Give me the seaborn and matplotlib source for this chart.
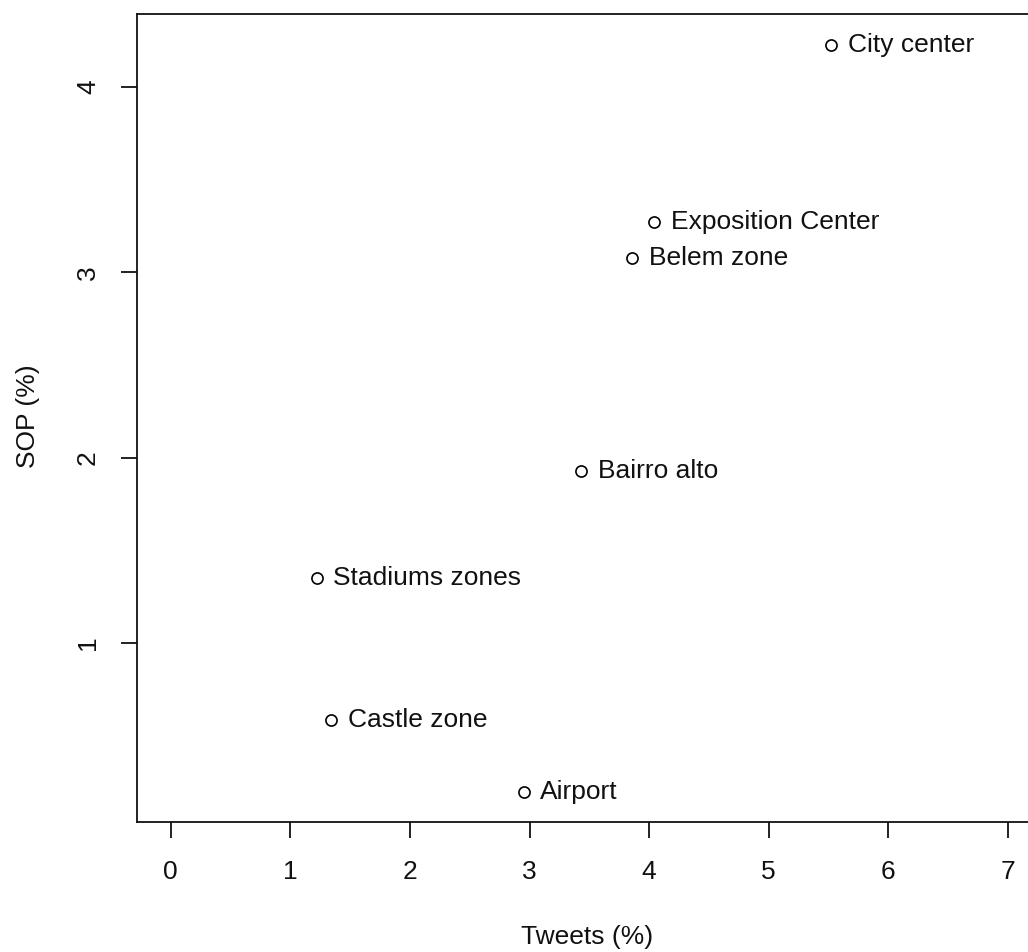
import matplotlib
matplotlib.use("Agg")
import matplotlib.pyplot as plt
import seaborn as sns
import pandas as pd

# Zone shares: tweets vs. SOP
zones = ["City center", "Exposition Center", "Belem zone", "Bairro alto",
         "Stadiums zones", "Castle zone", "Airport"]
tweets_pct = [5.52, 4.04, 3.86, 3.43, 1.22, 1.34, 2.95]
sop_pct = [4.226, 3.272, 3.078, 1.93, 1.35, 0.585, 0.197]
x_ticks = [0, 1, 2, 3, 4, 5, 6, 7]
y_ticks = [1, 2, 3, 4]

df = pd.DataFrame({"zone": zones, "tweets": tweets_pct, "sop": sop_pct})

sns.set_theme(style="ticks")
plt.rcParams["font.family"] = ["Liberation Sans", "DejaVu Sans"]

FS = 19
W, H = 1028, 952
fig = plt.figure(figsize=(W / 100, H / 100), dpi=100)
left_px, right_px, top_px, bottom_px = 136.7, 1036, 14, 822.3
ax_w = right_px - left_px
ax_h = bottom_px - top_px
ax = fig.add_axes([left_px / W, 1 - bottom_px / H, ax_w / W, ax_h / H])

sns.scatterplot(data=df, x="tweets", y="sop", ax=ax, marker="o", s=64,
                facecolor="white", edgecolor="black", linewidth=1.2, zorder=3)

for z, xv, yv in zip(zones, tweets_pct, sop_pct):
    ax.annotate(z, (xv, yv), xytext=(12, 0), textcoords="offset points",
                ha="left", va="center", fontsize=FS, color="#111111")

# Axis limits from the tick pixel scale
x0_px, x_unit = 170.7, 119.6
ax.set_xlim((left_px - x0_px) / x_unit, (right_px - x0_px) / x_unit)
ax.set_ylim(0.0324, 4.394)

ax.set_xticks(x_ticks)
ax.set_yticks(y_ticks)
ax.set_xticklabels([str(t) for t in x_ticks])
ax.set_yticklabels([str(t) for t in y_ticks], rotation=90, va="center")
ax.tick_params(axis="both", length=11.5, width=1.4, color="#222222",
               labelsize=FS, labelcolor="#111111")
ax.tick_params(axis="x", pad=16)
ax.tick_params(axis="y", pad=15)

for sp in ax.spines.values():
    sp.set_color("#111111")
    sp.set_linewidth(1.3)
    sp.set_visible(True)

ax.set_xlabel("Tweets (%)", fontsize=FS, color="#111111")
ax.set_ylabel("SOP (%)", fontsize=FS, color="#111111")
ax.xaxis.set_label_coords((587 - left_px) / ax_w, -(937 - bottom_px) / ax_h)
ax.xaxis.label.set_va("center")
ax.yaxis.set_label_coords(-(left_px - 28) / ax_w, (bottom_px - 416) / ax_h)
ax.yaxis.label.set_va("center")
ax.yaxis.label.set_ha("center")

fig.savefig("out.png", dpi=100, facecolor="white")
